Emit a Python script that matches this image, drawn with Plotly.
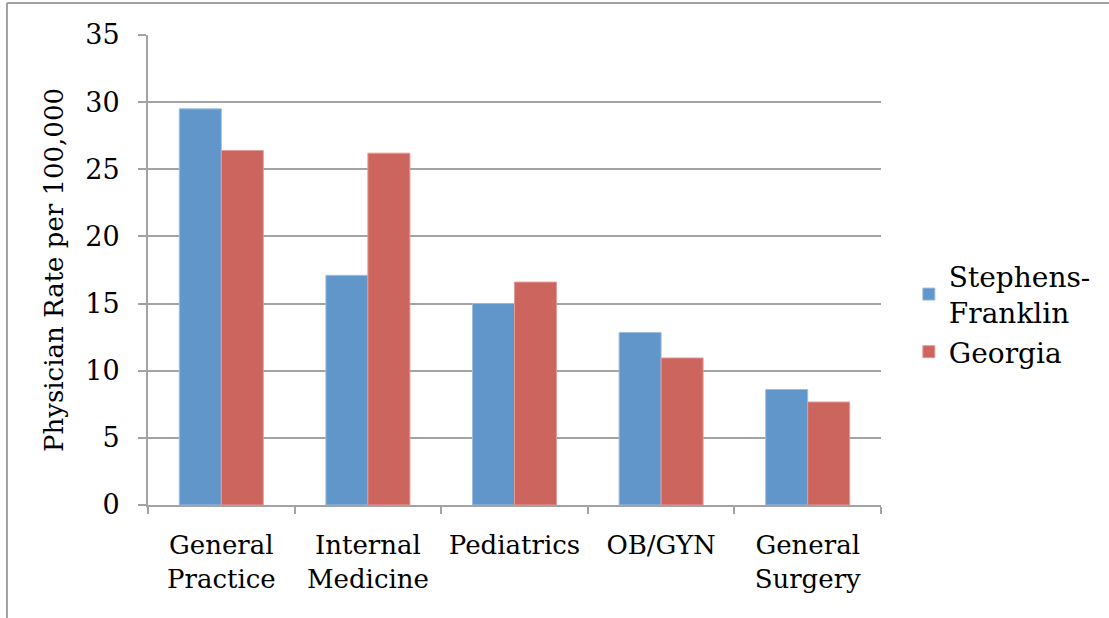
import plotly.graph_objects as go

categories = ["General<br>Practice", "Internal<br>Medicine", "Pediatrics", "OB/GYN", "General<br>Surgery"]
stephens_franklin = [29.5, 17.1, 15.0, 12.85, 8.6]
georgia = [26.4, 26.2, 16.6, 10.95, 7.67]
y_ticks = [0, 5, 10, 15, 20, 25, 30, 35]

FONT = "DejaVu Serif"
GRID = "#a3a3a3"

fig = go.Figure()
fig.add_trace(go.Bar(x=categories, y=stephens_franklin, name="Stephens-<br>Franklin",
                     marker=dict(color="#6096c9", line=dict(color="#9dbde0", width=1))))
fig.add_trace(go.Bar(x=categories, y=georgia, name="Georgia",
                     marker=dict(color="#cc655e", line=dict(color="#e39a94", width=1))))

fig.update_layout(
    width=1109, height=618,
    margin=dict(l=148, r=228, t=35, b=113),
    paper_bgcolor="white", plot_bgcolor="white",
    barmode="group", bargap=0.427, bargroupgap=0,
    font=dict(family=FONT, size=26, color="black"),
    legend=dict(x=1.038, y=0.54, xanchor="left", yanchor="top",
                font=dict(family=FONT, size=28), tracegroupgap=0,
                bgcolor="rgba(0,0,0,0)"),
    showlegend=True,
)
fig.update_xaxes(
    showline=True, linecolor=GRID, linewidth=2,
    ticks="outside", tickson="boundaries", ticklen=7, tickcolor=GRID, tickwidth=2,
    ticklabelstandoff=16,
    showgrid=False,
)
fig.update_yaxes(
    range=[0, 35], tickvals=y_ticks,
    showline=True, linecolor=GRID, linewidth=2,
    ticks="outside", ticklen=8, tickcolor=GRID, tickwidth=2,
    ticklabelstandoff=13, tickfont=dict(size=27),
    showgrid=True, gridcolor=GRID, gridwidth=2,
    zeroline=False,
    title=dict(text="Physician Rate per 100,000", standoff=14,
               font=dict(family=FONT, size=26)),
)

# outer frame of the chart area (left and top edges visible)
fig.add_shape(type="line", xref="paper", yref="paper",
              x0=-0.1924, x1=-0.1924, y0=-0.3, y1=1.068,
              line=dict(color="#a0a0a0", width=2))
fig.add_shape(type="line", xref="paper", yref="paper",
              x0=-0.1924, x1=1.4, y0=1.068, y1=1.068,
              line=dict(color="#a0a0a0", width=2))

fig.write_html("out.html", config={"displayModeBar": False},
               post_script="document.body.style.margin='0';")
